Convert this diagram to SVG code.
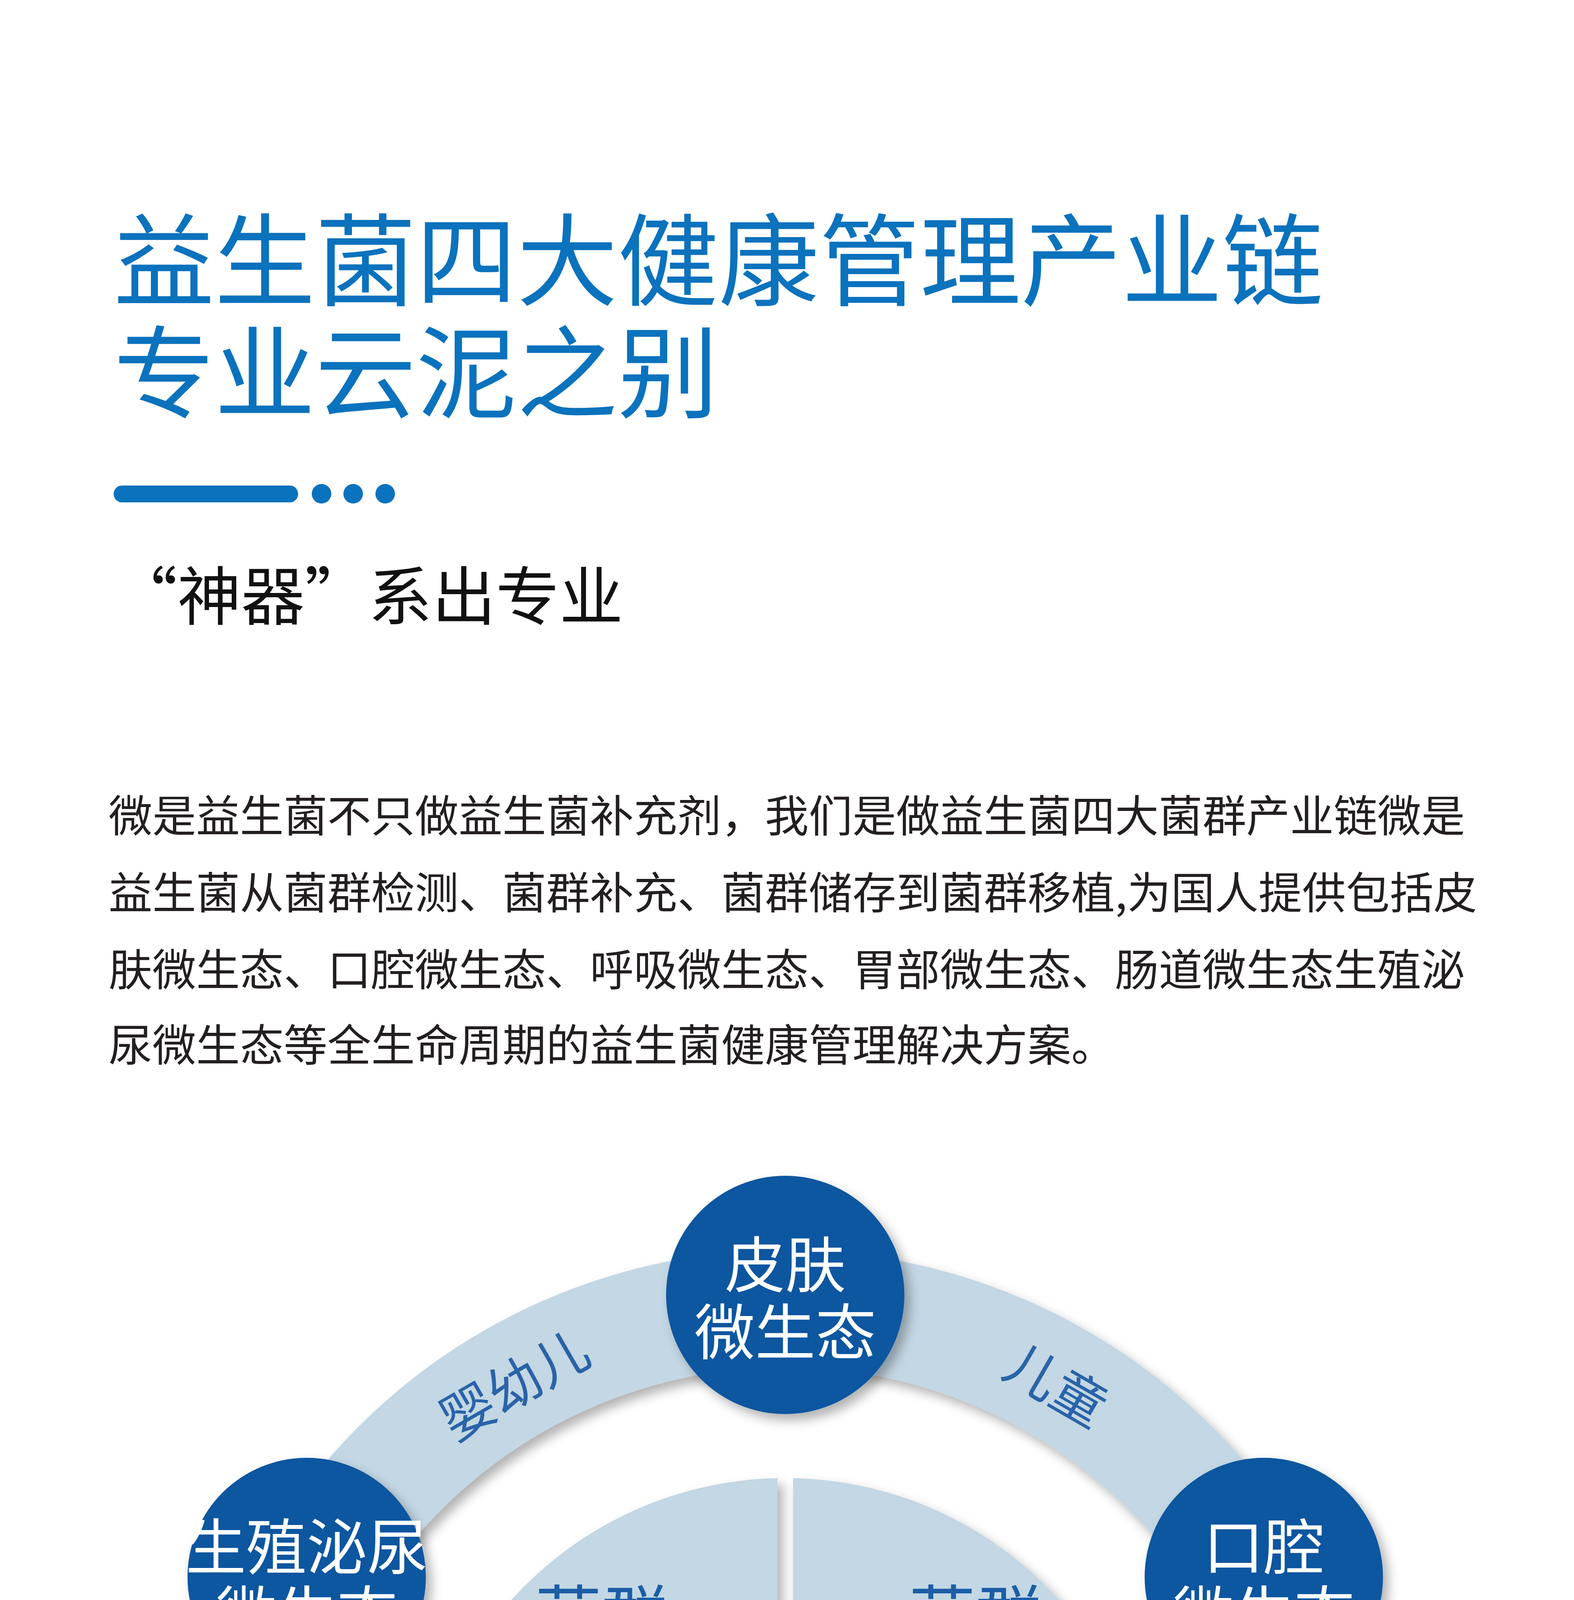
<svg xmlns="http://www.w3.org/2000/svg" width="4029" height="6675" viewBox="0 0 4029 6675">
<style>
.t{font-family:"Noto Sans CJK SC","Noto Sans",sans-serif}
.title{fill:#0b72bd;font-size:258px}
.sub{fill:#111;font-size:163px}
.para{fill:#231f20;font-size:112px}
.sat{fill:#0f57a0}
.st{fill:#fff;font-size:155px;text-anchor:middle}
.q{fill:#c3d7e4}
.qt{fill:#1b5ea7;font-size:170px}
.rt{fill:#2a63a8;font-size:137px;text-anchor:middle;dominant-baseline:central}
</style>
<defs>
<filter id="sh" x="-20%" y="-20%" width="140%" height="140%">
<feDropShadow dx="14" dy="16" stdDeviation="14" flood-color="#000" flood-opacity="0.3"/>
</filter>
</defs>
<rect width="4029" height="6675" fill="#fff"/>
<g id="header">
<text class="t title" x="291" y="763">益生菌四大健康管理产业链</text>
<text class="t title" x="291" y="1050">专业云泥之别</text>
<rect x="291" y="1243" width="472" height="43" rx="21" fill="#0b72bd"/>
<circle cx="823" cy="1264" r="25" fill="#0b72bd"/>
<circle cx="904" cy="1264" r="25" fill="#0b72bd"/>
<circle cx="986" cy="1264" r="25" fill="#0b72bd"/>
<text class="t sub" x="291" y="1586">“神器”系出专业</text>
</g>
<g id="paragraph" class="t para">
<text x="278" y="2130">微是益生菌不只做益生菌补充剂，我们是做益生菌四大菌群产业链微是</text>
<text x="278" y="2327">益生菌从菌群检测、菌群补充、菌群储存到菌群移植,为国人提供包括皮</text>
<text x="278" y="2524">肤微生态、口腔微生态、呼吸微生态、胃部微生态、肠道微生态生殖泌</text>
<text x="278" y="2717">尿微生态等全生命周期的益生菌健康管理解决方案。</text>
</g>
<g id="ring">
<circle cx="2010" cy="4745" r="1395" fill="none" stroke="#c3d7e4" stroke-width="300" filter="url(#sh)"/>
</g>
<g id="ring-labels" class="t rt">
<text transform="translate(1312 3537) rotate(-30)">婴幼儿</text>
<text transform="translate(2708 3537) rotate(30)">儿童</text>
<text transform="translate(3405 4745) rotate(90)">青少年</text>
<text transform="translate(615 4745) rotate(-90)">老年</text>
<text transform="translate(2708 5953) rotate(-30)">成人</text>
<text transform="translate(1312 5953) rotate(30)">中老年</text>
</g>
<g id="quadrants" filter="url(#sh)">
<path id="q-jc" class="q" d="M1990 4707 L1990 3784 A943 943 0 0 0 1067 4707 Z"/>
<path id="q-bc" class="q" d="M2030 4707 L2030 3784 A943 943 0 0 1 2953 4707 Z"/>
<path id="q-yz" class="q" d="M1990 4747 L1990 5670 A943 943 0 0 1 1067 4747 Z"/>
<path id="q-yh" class="q" d="M2030 4747 L2030 5670 A943 943 0 0 0 2953 4747 Z"/>
</g>
<g id="quadrant-labels" class="t qt">
<text x="1370" y="4200">菌群</text><text x="1370" y="4402">检测</text>
<text x="2327" y="4200">菌群</text><text x="2327" y="4402">补充</text>
<text x="1370" y="5207">菌群</text><text x="1370" y="5409">移植</text>
<text x="2327" y="5207">菌群</text><text x="2327" y="5409">银行</text>
</g>
<g id="center">
<circle cx="2010" cy="4727" r="478" class="sat" filter="url(#sh)"/>
<text class="t st" x="2010" y="4600">全生命周期</text>
<text class="t st" x="2010" y="4780">益生菌精准</text>
<text class="t st" x="2010" y="4960">健康管理</text>
</g>
<g id="sat-skin"><circle cx="2010" cy="3315" r="305" class="sat" filter="url(#sh)"/>
<text class="t st" x="2010" y="3295">皮肤</text><text class="t st" x="2010" y="3467">微生态</text></g>
<g id="sat-mouth"><circle cx="3235" cy="4037" r="305" class="sat" filter="url(#sh)"/>
<text class="t st" x="3235" y="4017">口腔</text><text class="t st" x="3235" y="4189">微生态</text></g>
<g id="sat-breath"><circle cx="3235" cy="5453" r="305" class="sat" filter="url(#sh)"/>
<text class="t st" x="3235" y="5433">呼吸</text><text class="t st" x="3235" y="5605">微生态</text></g>
<g id="sat-stomach"><circle cx="2010" cy="6175" r="305" class="sat" filter="url(#sh)"/>
<text class="t st" x="2010" y="6155">胃部</text><text class="t st" x="2010" y="6327">微生态</text></g>
<g id="sat-gut"><circle cx="785" cy="5453" r="305" class="sat" filter="url(#sh)"/>
<text class="t st" x="785" y="5433">肠道</text><text class="t st" x="785" y="5605">微生态</text></g>
<g id="sat-uro"><circle cx="785" cy="4037" r="305" class="sat" filter="url(#sh)"/>
<text class="t st" x="785" y="4017">生殖泌尿</text><text class="t st" x="785" y="4189">微生态</text></g>
</svg>
